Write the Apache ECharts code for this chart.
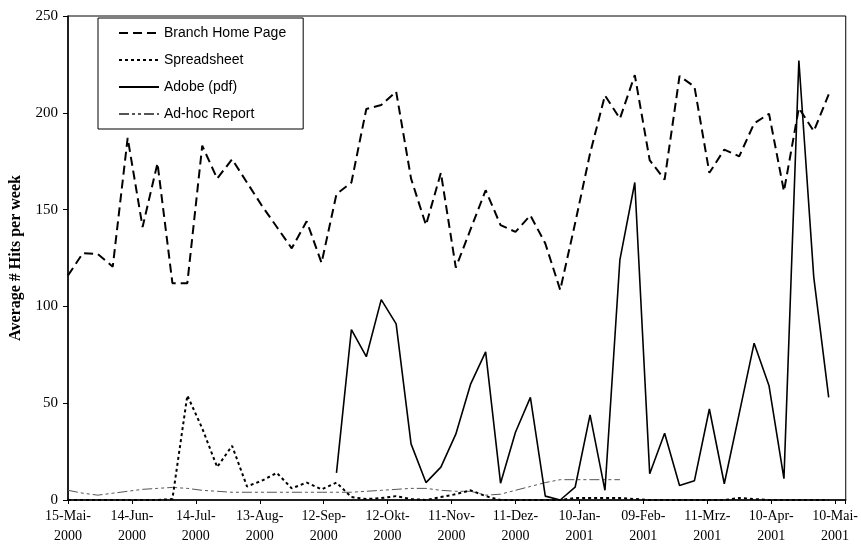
<!DOCTYPE html>
<html><head><meta charset="utf-8">
<script src="https://cdn.jsdelivr.net/npm/echarts@6/dist/echarts.min.js"></script>
<style>html,body{margin:0;padding:0;background:#fff}#c{width:861px;height:546px}</style>
</head><body><div id="c"></div>
<script>
// x tick labels (every 30 days starting 15-Mai-2000)
const tickLabels = ['15-Mai-\n2000','14-Jun-\n2000','14-Jul-\n2000','13-Aug-\n2000','12-Sep-\n2000','12-Okt-\n2000','11-Nov-\n2000','11-Dez-\n2000','10-Jan-\n2001','09-Feb-\n2001','11-Mrz-\n2001','10-Apr-\n2001','10-Mai-\n2001'];
// weekly observation days, counted from 15-Mai-2000
const weekDays = [0,7,14,21,28,35,42,49,56,63,70,77,84,91,98,105,112,119,126,133,140,147,154,161,168,175,182,189,196,203,210,217,224,231,238,245,252,259,266,273,280,287,294,301,308,315,322,329,336,343,350,357];
const branchHome = [116,127.5,127,120.5,187,141,174,112,112,183,166,176,164,152,141,130,144,122.5,158,164,202,204,211,166,142,169,120,140,160,142,138.5,147,132.5,108.5,143,179,209,197,219.5,175.5,165.5,219,213.5,169,181,177.5,194.5,199.5,159.5,202.5,190.5,209.5];
const spreadsheet = [0,0,0,0,0,0,0,0.5,54,37,17,28,7,10,14,6,9,5.5,9,1.5,0.5,1,2,0.5,0,1.5,3,5,2,0,0,0,0,0,1,1,1,1,0.5,0,0,0,0,0,0,1,0.5,0,0,0,0,0];
const adobe = [null,null,null,null,null,null,null,null,null,null,null,null,null,null,null,null,null,null,14,88,74,103.5,91,29,9,17,34,60,76.5,8.7,35,53,2,0,6.6,44,5,124,164,13.6,34.5,7.5,10,47,8.4,44.6,81,59,11,227,115,53];
const adhoc = [5,3.5,2.5,3.5,4.5,5.5,6,6.5,6,5,4.5,4,4,4,4,4,4,4,4,4,4.5,5,5.5,6,6,5,4.5,4.5,2.5,3,5,7,9,10.5,10.5,10.5,10.5,10.5];
const seriesNames = ['Branch Home Page','Spreadsheet','Adobe (pdf)','Ad-hoc Report'];

function pairs(vals){ return vals.map((v,i)=>[weekDays[i], v]); }

const chart = echarts.init(document.getElementById('c'), null, {renderer:'canvas'});
const serif = 'Liberation Serif';
chart.setOption({
  animation:false,
  backgroundColor:'#fff',
  grid:{left:66,right:8,top:16,bottom:46,show:true,borderColor:'#000',borderWidth:1,backgroundColor:'transparent'},
  xAxis:{type:'value',min:0,max:365,interval:30,
    axisLine:{onZero:false,lineStyle:{color:'#000',width:1.5}},
    axisTick:{length:4,lineStyle:{color:'#000'}},
    splitLine:{show:false},
    axisLabel:{formatter:v=> (v%30===0 ? tickLabels[v/30] : ''),color:'#000',fontFamily:serif,fontSize:14,lineHeight:20,margin:6,showMaxLabel:true}
  },
  yAxis:{type:'value',min:0,max:250,interval:50,
    name:'Average # Hits per week',nameLocation:'middle',nameGap:44,
    nameTextStyle:{fontFamily:serif,fontWeight:'bold',fontSize:16,color:'#000'},
    axisLine:{show:true,lineStyle:{color:'#000',width:1.5}},
    axisTick:{show:true,length:5,lineStyle:{color:'#000'}},
    splitLine:{show:false},
    axisLabel:{color:'#000',fontFamily:serif,fontSize:15,margin:10}
  },
  legend:{orient:'vertical',left:98,top:18,itemWidth:40,itemHeight:14,itemGap:13,
    padding:[8,17,8,20],borderColor:'#000',borderWidth:1,backgroundColor:'#fff',
    itemStyle:{color:'transparent',borderWidth:0,opacity:0},
    textStyle:{fontFamily:'Liberation Sans',fontSize:14,color:'#000'},
    data:seriesNames},
  series:[
    {name:seriesNames[3],type:'line',symbol:'none',data:pairs(adhoc),z:1,itemStyle:{color:'#555'},
      lineStyle:{color:'#555',width:1,type:[10,3,3,3,3,3]}},
    {name:seriesNames[1],type:'line',symbol:'none',data:pairs(spreadsheet),z:2,itemStyle:{color:'#000'},
      lineStyle:{color:'#000',width:2,type:[3,3]}},
    {name:seriesNames[2],type:'line',symbol:'none',data:pairs(adobe),z:3,itemStyle:{color:'#000'},
      lineStyle:{color:'#000',width:1.6,type:'solid'}},
    {name:seriesNames[0],type:'line',symbol:'none',data:pairs(branchHome),z:4,itemStyle:{color:'#000'},
      lineStyle:{color:'#000',width:2,type:[9,5]}}
  ]
});
</script></body></html>
